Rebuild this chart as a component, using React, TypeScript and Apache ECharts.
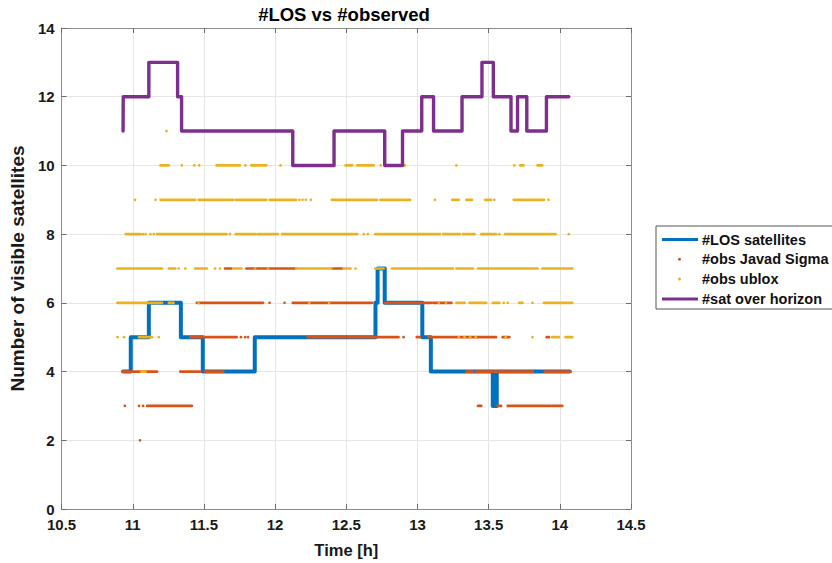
import { useEffect, useRef } from "react";
import * as echarts from "echarts";

const TITLE = "#LOS vs #observed";
const X_NAME = "Time [h]";
const Y_NAME = "Number of visible satellites";
const NAMES = ["#LOS satellites", "#obs Javad Sigma", "#obs ublox", "#sat over horizon"];
const COLORS = ["#0072BD", "#D95319", "#EDB120", "#7E2F8E"];

// LOS satellites: time of change (h) and value held from then on
const losTimes = [10.932, 10.986, 11.113, 11.338, 11.492, 11.857, 12.705, 12.72, 12.77, 13.034, 13.094, 13.529, 13.533, 13.537, 13.541, 13.546, 13.557, 14.07];
const losValues = [4, 5, 6, 5, 4, 5, 6, 7, 6, 5, 4, 3, 4, 3, 4, 3, 4, 4];

// satellites over horizon
const satTimes = [10.932, 10.933, 11.113, 11.315, 11.343, 12.124, 12.414, 12.77, 12.895, 13.03, 13.113, 13.313, 13.453, 13.533, 13.657, 13.703, 13.768, 13.906, 14.063];
const satValues = [11, 12, 13, 12, 11, 10, 11, 10, 11, 12, 11, 12, 13, 12, 11, 12, 11, 12, 12];

// Javad Sigma observations: runs [start h, end h] per level
const javad7 = [[11.648, 11.694], [11.798, 12.147], [12.402, 12.472]];
const javad6 = [[11.45, 11.915], [11.961, 11.961], [12.066, 12.066], [12.124, 12.681], [12.774, 13.099], [13.111, 13.239]];
const javad5 = [[11.404, 11.729], [11.76, 11.76], [11.79, 11.79], [11.81, 11.81], [12.228, 12.31], [12.321, 12.867], [12.902, 12.902], [12.995, 13.018], [13.076, 13.552], [13.599, 13.645], [13.908, 13.924]];
const javad4 = [[10.927, 11.171], [11.334, 11.474], [11.508, 11.636], [13.343, 13.39], [13.41, 13.81], [13.895, 14.075]];
const javad3 = [[10.944, 10.944], [11.044, 11.044], [11.073, 11.073], [11.101, 11.415], [13.425, 13.448], [13.564, 13.587], [13.634, 13.936], [13.947, 14.017]];
const javad2 = [[11.051, 11.051]];

// ublox observations: runs [start h, end h] per level
const ublox11 = [[11.237, 11.237]];
const ublox10 = [[11.195, 11.253], [11.345, 11.345], [11.432, 11.432], [11.467, 11.467], [11.589, 11.752], [11.791, 11.791], [11.833, 11.938], [12.038, 12.038], [12.495, 12.542], [12.577, 12.693], [12.742, 12.742], [12.89, 12.913], [13.273, 13.273], [13.68, 13.68], [13.722, 13.745], [13.843, 13.877]];
const ublox9 = [[11.016, 11.016], [11.16, 11.16], [11.195, 11.439], [11.462, 11.706], [11.724, 11.938], [11.961, 12.147], [12.17, 12.17], [12.193, 12.193], [12.216, 12.216], [12.251, 12.251], [12.398, 12.716], [12.739, 12.948], [13.122, 13.122], [13.244, 13.29], [13.343, 13.383], [13.476, 13.517], [13.54, 13.54], [13.676, 13.889], [13.92, 13.92]];
const ublox8 = [[10.951, 11.044], [11.055, 11.055], [11.073, 11.073], [11.09, 11.09], [11.125, 11.125], [11.148, 11.148], [11.171, 11.659], [11.683, 11.683], [11.724, 11.864], [11.88, 12.019], [12.049, 12.577], [12.623, 12.623], [12.651, 12.651], [12.704, 13.157], [13.181, 13.297], [13.32, 13.401], [13.448, 13.552], [13.575, 13.575], [13.615, 13.97], [14.063, 14.063]];
const ublox7 = [[10.892, 11.206], [11.253, 11.299], [11.322, 11.322], [11.369, 11.369], [11.439, 11.52], [11.578, 11.578], [11.613, 11.613], [11.706, 11.763], [11.86, 11.86], [11.95, 11.95], [12.147, 12.395], [12.48, 12.519], [12.53, 12.53], [12.565, 12.565], [12.704, 12.763], [12.821, 13.25], [13.274, 13.39], [13.425, 13.843], [13.878, 14.087]];
const ublox6 = [[10.892, 11.206], [11.253, 11.287], [11.462, 11.462], [12.24, 12.24], [12.379, 12.379], [13.15, 13.15], [13.2, 13.2], [13.274, 13.331], [13.366, 13.483], [13.529, 13.575], [13.606, 13.606], [13.634, 13.634], [13.715, 13.738], [13.808, 13.808], [13.889, 14.087]];
const ublox5 = [[10.892, 10.892], [10.939, 10.939], [11.044, 11.136], [11.183, 11.183], [13.29, 13.29], [13.33, 13.33], [13.37, 13.37], [13.41, 13.41], [13.62, 13.62], [13.808, 13.808], [13.947, 13.993], [14.04, 14.087]];
const ublox4 = [[11.06, 11.09]];

const FONT = "'Liberation Sans', Arial, Helvetica, sans-serif";

function withLevel(runs: number[][], level: number) {
  return runs.map((r) => [r[0], r[1], level]);
}

function runSeries(name: string, color: string, data: number[][], z: number) {
  return {
    type: "custom",
    name,
    z,
    xAxisIndex: 0,
    yAxisIndex: 0,
    encode: { x: [0, 1], y: 2 },
    data,
    renderItem: (_p: any, api: any) => {
      const s = api.coord([api.value(0), api.value(2)]);
      const e = api.coord([api.value(1), api.value(2)]);
      const h = 2.7;
      return {
        type: "rect",
        shape: { x: s[0] - h / 2, y: s[1] - h / 2, width: e[0] - s[0] + h, height: h, r: h / 2 },
        style: { fill: color },
      };
    },
  };
}

export default function App() {
  const ref = useRef<HTMLDivElement>(null);
  useEffect(() => {
    document.body.style.margin = "0";
    const chart = echarts.init(ref.current!, null, { renderer: "svg" });
    const javadData = [
      ...withLevel(javad7, 7), ...withLevel(javad6, 6), ...withLevel(javad5, 5),
      ...withLevel(javad4, 4), ...withLevel(javad3, 3), ...withLevel(javad2, 2),
    ];
    const ubloxData = [
      ...withLevel(ublox11, 11), ...withLevel(ublox10, 10), ...withLevel(ublox9, 9),
      ...withLevel(ublox8, 8), ...withLevel(ublox7, 7), ...withLevel(ublox6, 6),
      ...withLevel(ublox5, 5), ...withLevel(ublox4, 4),
    ];
    const axisCommon = {
      type: "value",
      axisLine: { show: true, onZero: false, lineStyle: { color: "#8c8c8c", width: 1 } },
      axisTick: { show: true, inside: true, length: 5, lineStyle: { color: "#6e6e6e" } },
    };
    const labelStyle = { color: "#1a1a1a", fontWeight: "bold", fontSize: 15, fontFamily: FONT };
    const legX = 656, legY = 226, rowH = 19.8;
    const legendItems: any[] = [
      { type: "rect", shape: { x: legX, y: legY, width: 180, height: 83 }, style: { fill: "#fff", stroke: "#555", lineWidth: 1 } },
    ];
    NAMES.forEach((n, i) => {
      const cy = legY + 13.5 + i * rowH;
      if (i === 0 || i === 3) {
        legendItems.push({ type: "line", shape: { x1: 662, y1: cy, x2: 698, y2: cy }, style: { stroke: COLORS[i], lineWidth: 3 } });
      } else {
        legendItems.push({ type: "circle", shape: { cx: 679.5, cy, r: 1.5 }, style: { fill: COLORS[i] } });
      }
      legendItems.push({
        type: "text",
        style: { text: n, x: 702, y: cy, textVerticalAlign: "middle", textAlign: "left", font: `bold 14.5px ${FONT}`, fill: "#111" },
      });
    });
    chart.setOption({
      animation: false,
      backgroundColor: "#fff",
      grid: { left: 57, top: 28, right: 201, bottom: 54, containLabel: false },
      xAxis: [
        {
          ...axisCommon,
          position: "bottom",
          min: 10.5, max: 14.5, interval: 0.5,
          name: X_NAME, nameLocation: "middle", nameGap: 32,
          nameTextStyle: { ...labelStyle, fontSize: 16.5 },
          axisLabel: { ...labelStyle, margin: 8 },
          splitLine: { show: true, lineStyle: { color: "#e6e6e6", width: 1 } },
        },
        {
          ...axisCommon,
          position: "top",
          min: 10.5, max: 14.5, interval: 0.5,
          axisLabel: { show: false },
          splitLine: { show: false },
        },
      ],
      yAxis: [
        {
          ...axisCommon,
          position: "left",
          min: 0, max: 14, interval: 2,
          name: Y_NAME, nameLocation: "middle", nameGap: 30,
          nameTextStyle: { ...labelStyle, fontSize: 19 },
          axisLabel: { ...labelStyle, margin: 7 },
          splitLine: { show: true, lineStyle: { color: "#e6e6e6", width: 1 } },
        },
        {
          ...axisCommon,
          position: "right",
          min: 0, max: 14, interval: 2,
          axisLabel: { show: false },
          splitLine: { show: false },
        },
      ],
      series: [
        {
          type: "line", name: NAMES[0], step: "end", showSymbol: false, z: 1,
          xAxisIndex: 0, yAxisIndex: 0,
          data: losTimes.map((t, i) => [t, losValues[i]]),
          lineStyle: { color: COLORS[0], width: 4, cap: "round", join: "round" },
        },
        runSeries(NAMES[1], COLORS[1], javadData, 3),
        runSeries(NAMES[2], COLORS[2], ubloxData, 4),
        {
          type: "line", name: NAMES[3], step: "end", showSymbol: false, z: 5,
          xAxisIndex: 0, yAxisIndex: 0,
          data: satTimes.map((t, i) => [t, satValues[i]]),
          lineStyle: { color: COLORS[3], width: 3.4, cap: "round", join: "round" },
        },
      ],
      graphic: [
        {
          type: "text",
          style: { text: TITLE, x: 344, y: 14, textAlign: "center", textVerticalAlign: "middle", font: `bold 18.5px ${FONT}`, fill: "#000" },
        },
        ...legendItems,
      ],
    });
    return () => chart.dispose();
  }, []);
  return <div ref={ref} style={{ width: 832, height: 563 }} />;
}
